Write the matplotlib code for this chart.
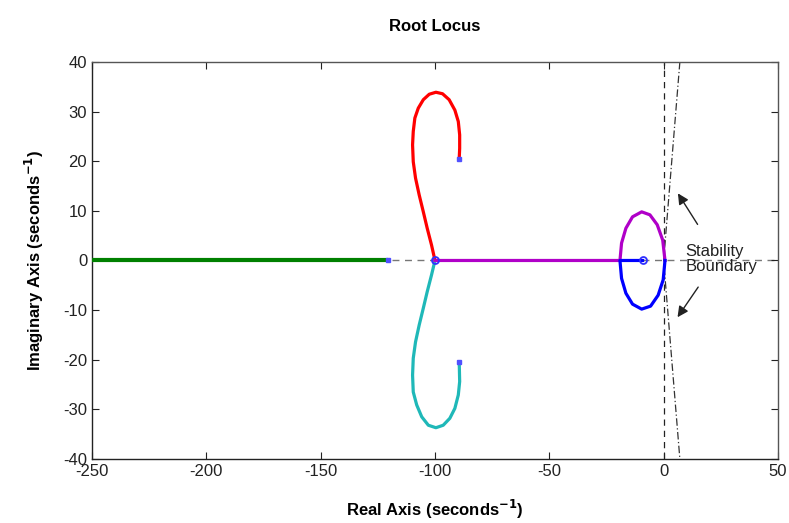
import matplotlib
matplotlib.use("Agg")
from matplotlib import pyplot as plt

plt.rcParams['font.family'] = ['Liberation Sans', 'DejaVu Sans']
plt.rcParams['axes.unicode_minus'] = False

# root locus branches
red_x = [-100.0, -101.5, -103.4, -105.1, -106.9, -108.5, -109.5, -109.8, -109.5, -108.8, -107.3,
         -105.1, -102.5, -99.6, -96.7, -93.8, -91.3, -89.8, -89.2, -89.2, -89.4]
red_y = [0.0, 3.1, 6.5, 9.8, 13.2, 16.6, 19.9, 23.3, 26.0, 28.7, 30.7,
         32.4, 33.5, 33.9, 33.6, 32.4, 30.3, 28.0, 25.3, 22.6, 20.5]

cyan_x = [-100.0, -101.5, -103.4, -105.1, -106.9, -108.5, -109.5, -109.8, -109.5, -108.0, -105.8,
          -102.9, -99.6, -96.4, -93.5, -91.3, -89.8, -89.2, -89.4]
cyan_y = [0.0, -2.9, -6.3, -9.6, -13.0, -16.4, -19.7, -23.1, -26.5, -29.1, -31.5,
          -33.2, -33.7, -33.2, -31.8, -29.8, -27.1, -24.4, -20.4]

magenta_x = [-100.0, -19.1, -18.4, -16.5, -13.6, -9.6, -6.0, -2.8, -0.4, 0.6]
magenta_y = [0.0, 0.0, 3.5, 6.5, 8.8, 9.8, 9.2, 7.2, 4.1, 0.0]

blue_x = [-9.2, -19.1, -18.4, -16.5, -13.6, -9.6, -5.7, -2.4, -0.2, 0.6]
blue_y = [0.0, 0.0, -3.6, -6.6, -8.8, -9.8, -9.2, -7.0, -3.9, 0.0]

green_x = [-250.0, -120.5]
green_y = [0.0, 0.0]

# open-loop poles / end points
pole_x = [-100.0, -9.2]
pole_y = [0.0, 0.0]
end_x = [-89.4, -89.4, -120.5]
end_y = [20.5, -20.4, 0.0]

# stability boundary lines
bound_x = [7.1, 0.0, 7.1]
bound_y = [40.0, 0.0, -40.0]

xticks = [-250, -200, -150, -100, -50, 0, 50]
yticks = [-40, -30, -20, -10, 0, 10, 20, 30, 40]

fig = plt.figure(figsize=(7.89, 5.23), dpi=100)
ax = fig.add_axes([0.1166, 0.1224, 0.8694, 0.7591])

ax.axhline(0, color='#777777', ls=(0, (5, 4)), lw=1.0, zorder=1)
ax.axvline(0, color='#222222', ls=(0, (5, 4)), lw=0.9, zorder=1)
ax.plot(bound_x, bound_y, color='#333333', ls=(0, (6, 2, 1, 2)), lw=0.9, zorder=1)

ax.plot(green_x, green_y, color='#008000', lw=3.0, solid_capstyle='butt', zorder=3)
ax.plot(red_x, red_y, color='#ff0000', lw=2.3, zorder=3)
ax.plot(cyan_x, cyan_y, color='#1fb8b8', lw=2.3, zorder=3)
ax.plot(magenta_x, magenta_y, color='#b000c8', lw=2.3, zorder=3)
ax.plot(blue_x, blue_y, color='#0000ff', lw=2.3, zorder=3)

ax.plot(pole_x, pole_y, 'o', mfc='none', mec='#3030ff', ms=5, mew=1.3, zorder=4)
ax.plot(end_x, end_y, 's', color='#5050ff', ms=2.5, zorder=4)

ax.text(9.5, 0.3, 'Stability\nBoundary', fontsize=12, va='center', ha='left',
        color='#222222', linespacing=1.0)
ax.annotate('', xy=(5.6, 14.0), xytext=(15.5, 6.8),
            arrowprops=dict(arrowstyle='-|>', color='#222222', lw=1.0, mutation_scale=16))
ax.annotate('', xy=(5.4, -11.9), xytext=(15.8, -4.9),
            arrowprops=dict(arrowstyle='-|>', color='#222222', lw=1.0, mutation_scale=16))

ax.set_xlim(-250, 50)
ax.set_ylim(-40, 40)
ax.set_xticks(xticks)
ax.set_yticks(yticks)
ax.tick_params(direction='in', top=True, right=True, length=5, labelsize=12, colors='#222222')
for s in ax.spines.values():
    s.set_color('#555555')
    s.set_linewidth(1.0)
ax.spines['left'].set_color('#222222')
ax.spines['bottom'].set_color('#222222')

ax.set_title('Root Locus', fontsize=12, fontweight='bold', pad=22)
ax.set_xlabel(r'Real Axis (seconds$^{\mathbf{-1}}$)', fontsize=12, fontweight='bold', labelpad=14)
ax.set_ylabel(r'Imaginary Axis (seconds$^{\mathbf{-1}}$)', fontsize=12, fontweight='bold', labelpad=12)

fig.savefig('out.png', dpi=100)
